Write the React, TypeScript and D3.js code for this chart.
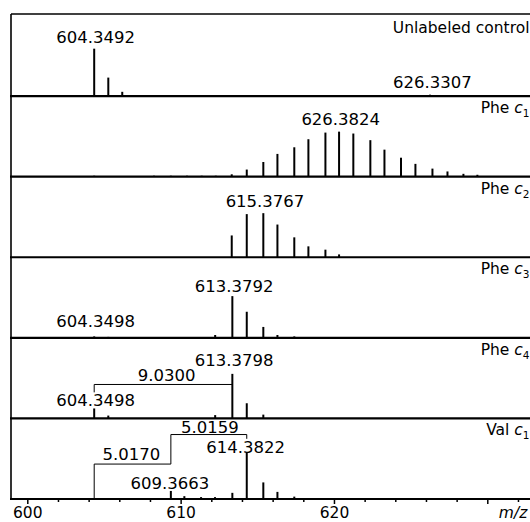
import React from "react";
import * as d3 from "d3";

// ---------- data ----------
const panelNames = ["Unlabeled control", "Phe", "Phe", "Phe", "Phe", "Val"];
const panelIons = ["", "c", "c", "c", "c", "c"];
const panelIonIndex = ["", "1", "2", "3", "4", "1"];

const unlabeledMz = [604.33, 605.25, 606.16, 607.32, 626.23, 627.2];
const unlabeledInt = [100, 39, 9, 2, 3, 1];

const pheC1Mz = [604.33, 608.23, 609.33, 610.38, 611.34, 612.26, 613.3, 614.28, 615.36, 616.28, 617.38, 618.3, 619.41, 620.3, 621.23, 622.34, 623.26, 624.34, 625.28, 626.39, 627.37, 628.41, 629.32];
const pheC1Int = [2, 2, 2, 2, 2, 2, 5, 15, 31, 48, 62, 79, 93, 95, 91, 77, 57, 40, 27, 17, 11, 6, 4];

const pheC2Mz = [613.3, 614.28, 615.36, 616.28, 617.38, 618.3, 619.41, 620.3];
const pheC2Int = [46, 91, 93, 69, 42, 23, 16, 6];

const pheC3Mz = [604.33, 605.25, 612.22, 613.34, 614.28, 615.36, 616.28, 617.38];
const pheC3Int = [3, 2, 6, 88, 55, 23, 6, 3];

const pheC4Mz = [604.33, 605.25, 612.22, 613.34, 614.28, 615.36];
const pheC4Int = [21, 6, 7, 94, 32, 8];

const valC1Mz = [600.8, 603.3, 605.3, 606.5, 607.2, 607.8, 608.4, 609.33, 610.21, 611.3, 612.21, 613.34, 614.28, 615.36, 616.28, 617.38];
const valC1Int = [2, 2, 2, 2, 2, 2, 2, 17, 6, 4, 4, 13, 99, 35, 15, 5];

const panelMz = [unlabeledMz, pheC1Mz, pheC2Mz, pheC3Mz, pheC4Mz, valC1Mz];
const panelInt = [unlabeledInt, pheC1Int, pheC2Int, pheC3Int, pheC4Int, valC1Int];

// peak annotations: panel, text, m/z anchor, intensity level of baseline
const labelPanel = [0, 0, 1, 2, 3, 3, 4, 4, 4, 5, 5, 5, 5];
const labelText = ["604.3492", "626.3307", "626.3824", "615.3767", "613.3792", "604.3498", "613.3798", "604.3498", "9.0300", "5.0159", "614.3822", "5.0170", "609.3663"];
const labelMz = [604.42, 626.39, 620.41, 615.47, 613.45, 604.42, 613.45, 604.42, 609.06, 611.88, 614.2, 606.75, 609.27];
const labelLevel = [113, 16, 109, 105, 97.5, 23, 110, 26, 78.5, 140, 97.5, 82, 21];

// mass-difference brackets: panel and polyline points [m/z, intensity]
const bracketPanel = [4, 5];
const bracketPoints: [number, number][][] = [
  [[604.33, 55], [604.33, 71.6], [613.34, 71.6]],
  [[604.33, 0], [604.33, 73.7], [609.33, 73.7], [609.33, 136], [614.28, 136], [614.28, 127]],
];

const majorTicks = [600, 610, 620, 630];
const majorTickLabels = ["600", "610", "620", ""];
const minorTicks = [602, 604, 606, 608, 612, 614, 616, 618, 622, 624, 626, 628, 632];

// ---------- layout ----------
const W = 530;
const H = 522;
const frameLeft = 11;
const frameTop = 14;
const FONT = "DejaVu Sans, sans-serif";

export default function App() {
  const x = d3.scaleLinear().domain([600, 630]).range([27.8, 487.8]);
  const panelY = d3.scaleLinear().domain([0, 6]).range([15.5, 499]);
  const nPanels = panelNames.length;
  const panelH = panelY(1) - panelY(0);
  const h = d3.scaleLinear().domain([0, 170]).range([0, panelH]);
  const base = (i: number) => panelY(i + 1);
  const line = d3.line<[number, number]>();

  return (
    <svg width={W} height={H} style={{ position: "absolute", left: 0, top: 0, background: "#fff" }} fontFamily={FONT}>
      {/* frame */}
      <line x1={frameLeft} x2={W + 20} y1={frameTop} y2={frameTop} stroke="#000" strokeWidth={1.6} />
      <line x1={frameLeft} x2={frameLeft} y1={frameTop} y2={base(nPanels - 1) + 1} stroke="#000" strokeWidth={1.6} />

      {/* peaks */}
      {panelMz.map((mzs, p) => (
        <g key={"p" + p}>
          {mzs.map((m, i) => (
            <line key={i} x1={x(m)} x2={x(m)} y1={base(p)} y2={base(p) - h(panelInt[p][i])} stroke="#000" strokeWidth={2} />
          ))}
        </g>
      ))}

      {/* brackets */}
      {bracketPoints.map((pts, b) => (
        <path
          key={"b" + b}
          d={line(pts.map(([m, v]) => [x(m), base(bracketPanel[b]) - h(v)]))!}
          fill="none"
          stroke="#000"
          strokeWidth={1}
        />
      ))}

      {/* panel baselines */}
      {panelNames.map((_, p) => (
        <line key={"bl" + p} x1={frameLeft - 1} x2={W + 20} y1={base(p)} y2={base(p)} stroke="#000" strokeWidth={2.2} />
      ))}

      {/* peak labels */}
      {labelText.map((t, i) => (
        <text
          key={"l" + i}
          x={x(labelMz[i])}
          y={base(labelPanel[i]) - h(labelLevel[i])}
          textAnchor="middle"
          fontSize={16.5}
          fill="#000"
        >
          {t}
        </text>
      ))}

      {/* panel names */}
      {panelNames.map((n, p) => (
        <text key={"n" + p} x={529.5} y={panelY(p) + 17} textAnchor="end" fontSize={15.5} fill="#000">
          {n}
          {panelIons[p] ? " " : ""}
          {panelIons[p] ? <tspan fontStyle="italic">{panelIons[p]}</tspan> : null}
          {panelIonIndex[p] ? (
            <tspan fontSize={10.5} dy={4}>
              {panelIonIndex[p]}
            </tspan>
          ) : null}
        </text>
      ))}

      {/* x axis */}
      {majorTicks.map((t, i) => (
        <g key={"mt" + t}>
          <line x1={x(t)} x2={x(t)} y1={base(nPanels - 1)} y2={base(nPanels - 1) + 5} stroke="#000" strokeWidth={1.5} />
          <text x={x(t)} y={518} textAnchor="middle" fontSize={15.5} fill="#000">
            {majorTickLabels[i]}
          </text>
        </g>
      ))}
      {minorTicks.map((t) => (
        <line key={"nt" + t} x1={x(t)} x2={x(t)} y1={base(nPanels - 1)} y2={base(nPanels - 1) + 3} stroke="#000" strokeWidth={1.5} />
      ))}
      <text x={x(631.65)} y={518} textAnchor="middle" fontSize={15.5} fontStyle="italic" fill="#000">
        m/z
      </text>
    </svg>
  );
}
